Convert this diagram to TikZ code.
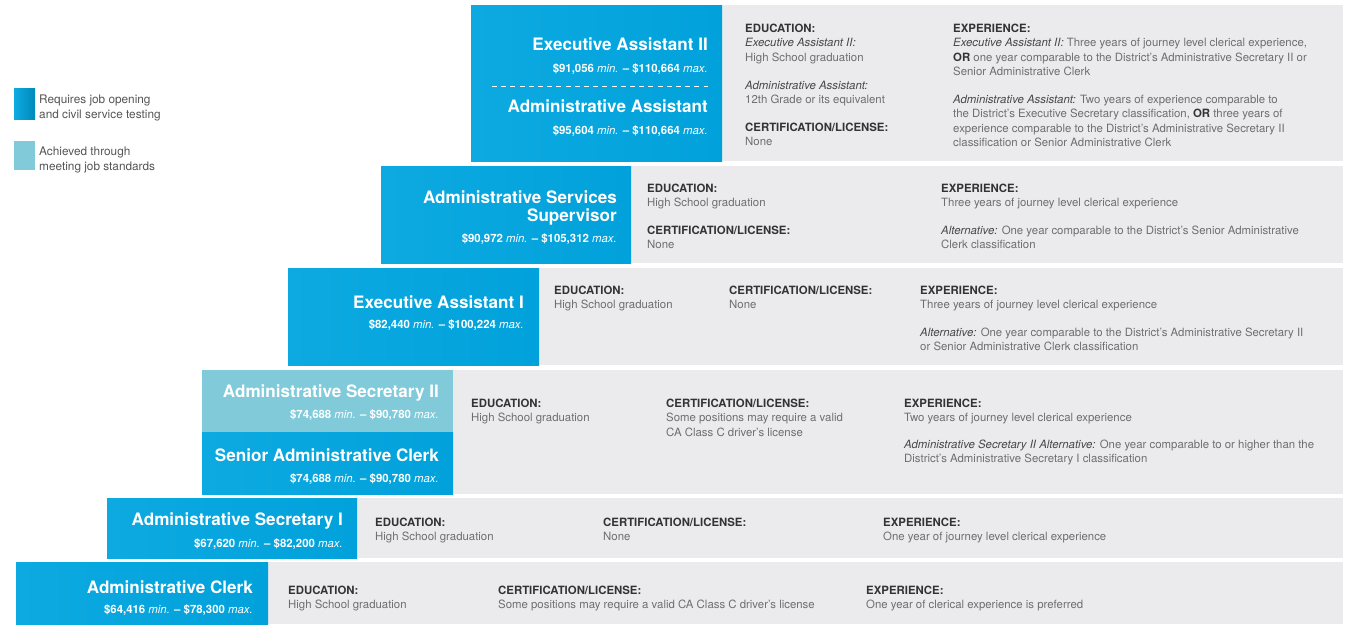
\documentclass[tikz,border=0pt]{standalone}
\usepackage{fontspec}
\setmainfont{TeX Gyre Heros}
\definecolor{bgray}{HTML}{EBEBED}
\definecolor{cbluel}{HTML}{0DAAE1}
\definecolor{cblued}{HTML}{01A1DB}
\definecolor{lblue}{HTML}{80CADA}
\definecolor{hdcol}{HTML}{333333}
\definecolor{labcol}{HTML}{474747}
\definecolor{bodycol}{HTML}{6E6E6E}
\definecolor{legcol}{HTML}{555555}
\newcommand{\hd}[1]{{\bfseries\color{hdcol}#1}}
\newcommand{\lab}[1]{{\itshape\color{labcol}#1}}
\newcommand{\orw}{{\bfseries\color{hdcol}OR}}
\newcommand{\mn}{{\mdseries\itshape min.}}
\newcommand{\mx}{{\mdseries\itshape max.}}
\tikzset{
  ttl/.style={anchor=base east, inner sep=0, text=white, font=\fontsize{17.1}{18}\selectfont\bfseries},
  sal/.style={anchor=base east, inner sep=0, text=white, font=\fontsize{11.4}{13}\selectfont\bfseries},
  blk/.style={anchor=base west, inner sep=0, align=left, text=bodycol, font=\fontsize{11.4}{14.3}\selectfont},
  leg/.style={anchor=base west, inner sep=0, align=left, text=legcol, font=\fontsize{11.8}{15}\selectfont},
  bluebox/.style={left color=cbluel, right color=cblued},
  legbox/.style={left color=cbluel, right color=cblued!85!black},
  graybox/.style={fill=bgray},
}
\begin{document}
\begin{tikzpicture}[x=1pt,y=-1pt]
\useasboundingbox (0,0) rectangle (1352,625);
\fill[white] (0,0) rectangle (1352,625);

% legend
\shade[legbox] (14,88) rectangle (35,119);
\fill[lblue] (14,141) rectangle (35,170);
\node[leg] (lg1) at (39,118) {Requires job opening\\and civil service testing};
\node[leg] (lg2) at (39,170) {Achieved through\\meeting job standards};

% backgrounds
\fill[graybox] (722,5) rectangle (1343,161);
\shade[bluebox] (471,5) rectangle (722,161);
\fill[graybox] (631,166) rectangle (1343,263);
\shade[bluebox] (381,166) rectangle (631,263);
\fill[graybox] (539,268) rectangle (1343,365);
\shade[bluebox] (288,268) rectangle (539,365);
\fill[graybox] (453,370) rectangle (1343,494);
\fill[lblue] (202,370) rectangle (453,432);
\shade[bluebox] (202,432) rectangle (453,494);
\fill[graybox] (357,498) rectangle (1343,558);
\shade[bluebox] (107,498) rectangle (357,558);
\fill[graybox] (268,562) rectangle (1343,624);
\shade[bluebox] (16,562) rectangle (268,624);

% row 1
\node[ttl] (ea2) at (708,50) {Executive Assistant II};
\node[sal] (ea2s) at (708,72) {\$91,056 \mn{} -- \$110,664 \mx};
\draw[white, line width=0.8pt, dash pattern=on 5pt off 4.2pt] (492,86.5) -- (708,86.5);
\node[ttl] (aa) at (708,112) {Administrative Assistant};
\node[sal] (aas) at (708,134) {\$95,604 \mn{} -- \$110,664 \mx};
\node[blk] (r1ed) at (745,61.1) {\hd{EDUCATION:}\\\lab{Executive Assistant II:}\\High School graduation};
\node[blk] (r1ed2) at (745,103.8) {\lab{Administrative Assistant:}\\12th Grade or its equivalent};
\node[blk] (r1ce) at (745,145.8) {\hd{CERTIFICATION/LICENSE:}\\None};
\node[blk] (r1ex) at (953,75.4) {\hd{EXPERIENCE:}\\\lab{Executive Assistant II:} Three years of journey level clerical experience,\\\orw{} one year comparable to the District's Administrative Secretary II or\\Senior Administrative Clerk};
\node[blk] (r1ex2) at (953,146.4) {\lab{Administrative Assistant:} Two years of experience comparable to\\the District's Executive Secretary classification, \orw{} three years of\\experience comparable to the District's Administrative Secretary II\\classification or Senior Administrative Clerk};

% row 2
\node[ttl] (ass1) at (617,203) {Administrative Services};
\node[ttl] (ass2) at (617,221) {Supervisor};
\node[sal] (asss) at (617,242.5) {\$90,972 \mn{} -- \$105,312 \mx};
\node[blk] (r2ed) at (647,206.8) {\hd{EDUCATION:}\\High School graduation};
\node[blk] (r2ce) at (647,248.8) {\hd{CERTIFICATION/LICENSE:}\\None};
\node[blk] (r2ex) at (941,206.8) {\hd{EXPERIENCE:}\\Three years of journey level clerical experience};
\node[blk] (r2ex2) at (941,248.8) {\lab{Alternative:} One year comparable to the District's Senior Administrative\\Clerk classification};

% row 3
\node[ttl] (ea1) at (524,308) {Executive Assistant I};
\node[sal] (ea1s) at (524,328.5) {\$82,440 \mn{} -- \$100,224 \mx};
\node[blk] (r3ed) at (554,308.8) {\hd{EDUCATION:}\\High School graduation};
\node[blk] (r3ce) at (729,308.8) {\hd{CERTIFICATION/LICENSE:}\\None};
\node[blk] (r3ex) at (920,308.8) {\hd{EXPERIENCE:}\\Three years of journey level clerical experience};
\node[blk] (r3ex2) at (920,350.8) {\lab{Alternative:} One year comparable to the District's Administrative Secretary II\\or Senior Administrative Clerk classification};

% row 4
\node[ttl] (as2) at (439,397) {Administrative Secretary II};
\node[sal] (as2s) at (439,418.5) {\$74,688 \mn{} -- \$90,780 \mx};
\node[ttl] (sac) at (439,461) {Senior Administrative Clerk};
\node[sal] (sacs) at (439,482.5) {\$74,688 \mn{} -- \$90,780 \mx};
\node[blk] (r4ed) at (471,421.8) {\hd{EDUCATION:}\\High School graduation};
\node[blk] (r4ce) at (666,436.1) {\hd{CERTIFICATION/LICENSE:}\\Some positions may require a valid\\CA Class C driver's license};
\node[blk] (r4ex) at (904,421.8) {\hd{EXPERIENCE:}\\Two years of journey level clerical experience};
\node[blk] (r4ex2) at (904,462.8) {\lab{Administrative Secretary II Alternative:} One year comparable to or higher than the\\District's Administrative Secretary I classification};

% row 5
\node[ttl] (as1) at (343,525) {Administrative Secretary I};
\node[sal] (as1s) at (343,547.5) {\$67,620 \mn{} -- \$82,200 \mx};
\node[blk] (r5ed) at (375,540.8) {\hd{EDUCATION:}\\High School graduation};
\node[blk] (r5ce) at (603,540.8) {\hd{CERTIFICATION/LICENSE:}\\None};
\node[blk] (r5ex) at (883,540.8) {\hd{EXPERIENCE:}\\One year of journey level clerical experience};

% row 6
\node[ttl] (ac) at (253,593) {Administrative Clerk};
\node[sal] (acs) at (253,613.5) {\$64,416 \mn{} -- \$78,300 \mx};
\node[blk] (r6ed) at (288,608.8) {\hd{EDUCATION:}\\High School graduation};
\node[blk] (r6ce) at (498,608.8) {\hd{CERTIFICATION/LICENSE:}\\Some positions may require a valid CA Class C driver's license};
\node[blk] (r6ex) at (866,608.8) {\hd{EXPERIENCE:}\\One year of clerical experience is preferred};
\end{tikzpicture}
\end{document}
